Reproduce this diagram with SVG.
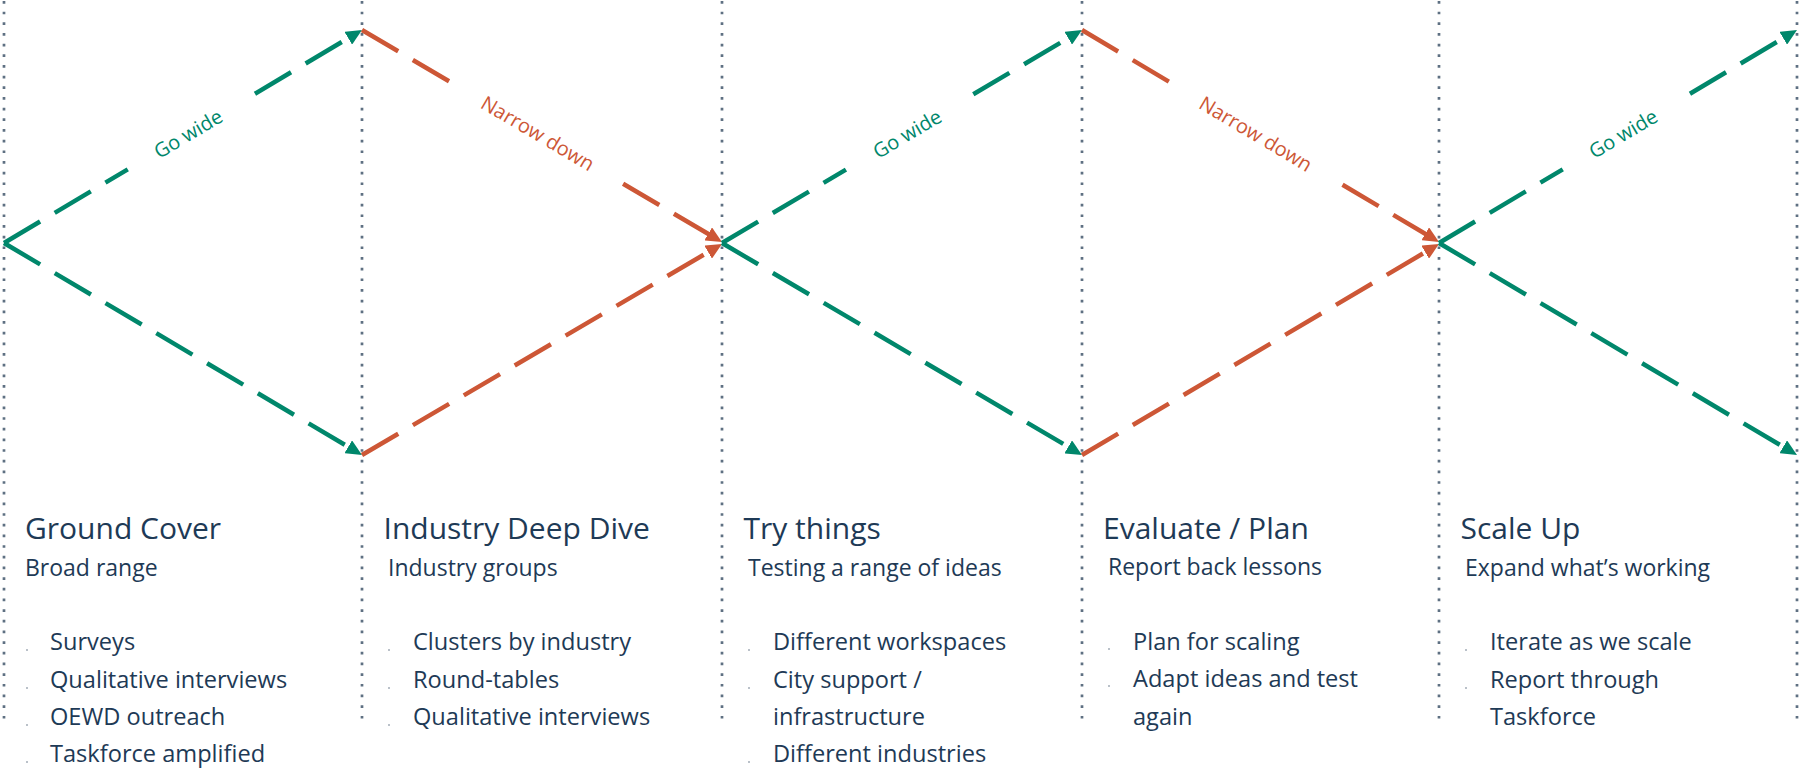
<svg xmlns="http://www.w3.org/2000/svg" width="1801" height="769" viewBox="0 0 1801 769">
<style>
.guide{stroke:#5E7082;stroke-width:2.7;stroke-dasharray:2.7 7.97;stroke-dashoffset:-1;fill:none}
.g{stroke:#00876B;stroke-width:4.5;stroke-dasharray:42 17;fill:none}
.o{stroke:#CD5736;stroke-width:4.5;stroke-dasharray:42 17;fill:none}
.lbl{font-family:"Open Sans","Noto Sans",sans-serif;font-size:20px;text-anchor:middle;dominant-baseline:central}
.title{font-family:"Open Sans","Noto Sans",sans-serif;font-size:30px;fill:#1E3A56}
.sub{font-family:"Open Sans","Noto Sans",sans-serif;font-size:23px;fill:#1E3A56}
.item{font-family:"Open Sans","Noto Sans",sans-serif;font-size:23.6px;fill:#1E3A56}
.dot{fill:#A3ADB7}
</style>
<defs>
<marker id="ag" markerUnits="userSpaceOnUse" markerWidth="16" markerHeight="15" refX="10" refY="7.5" orient="auto"><path d="M0,0 L16,7.5 L0,15 Z" fill="#00876B"/></marker>
<marker id="ao" markerUnits="userSpaceOnUse" markerWidth="16" markerHeight="15" refX="10" refY="7.5" orient="auto"><path d="M0,0 L16,7.5 L0,15 Z" fill="#CD5736"/></marker>
</defs>
<rect width="1801" height="769" fill="#FFFFFF"/>
<g id="guides">
<line class="guide" x1="4" y1="0" x2="4" y2="719"/>
<line class="guide" x1="362" y1="0" x2="362" y2="719"/>
<line class="guide" x1="722" y1="0" x2="722" y2="719"/>
<line class="guide" x1="1082" y1="0" x2="1082" y2="719"/>
<line class="guide" x1="1439" y1="0" x2="1439" y2="719"/>
<line class="guide" x1="1797" y1="0" x2="1797" y2="719"/>
</g>
<g id="connectors">
<path class="g" d="M4,243 L127.75,169.37 M254.94,93.70 L356.84,33.07" marker-end="url(#ag)"/>
<path class="g" d="M4,243 L356.84,451.93" marker-end="url(#ag)"/>
<path class="o" d="M362,30 L449.89,81.76 M623.10,183.74 L716.83,238.96" marker-end="url(#ao)"/>
<path class="o" d="M362,455 L716.82,247.03" marker-end="url(#ao)"/>
<path class="g" d="M722,243 L845.93,169.67 M973.30,94.31 L1076.84,33.06" marker-end="url(#ag)"/>
<path class="g" d="M722,243 L1076.84,451.94" marker-end="url(#ag)"/>
<path class="o" d="M1082,30 L1169.70,82.08 M1342.52,184.71 L1433.84,238.94" marker-end="url(#ao)"/>
<path class="o" d="M1082,455 L1433.83,247.05" marker-end="url(#ao)"/>
<path class="g" d="M1439,243 L1562.75,169.37 M1689.94,93.70 L1791.84,33.07" marker-end="url(#ag)"/>
<path class="g" d="M1439,243 L1791.84,451.93" marker-end="url(#ag)"/>
<text class="lbl" fill="#00876B" transform="translate(188,133.5) rotate(-30.7)">Go wide</text>
<text class="lbl" fill="#CD5736" transform="translate(538,133) rotate(30.5)">Narrow down</text>
<text class="lbl" fill="#00876B" transform="translate(907,133.5) rotate(-30.6)">Go wide</text>
<text class="lbl" fill="#CD5736" transform="translate(1256,133.5) rotate(30.7)">Narrow down</text>
<text class="lbl" fill="#00876B" transform="translate(1623,133.5) rotate(-30.7)">Go wide</text>
</g>
<g id="ground-cover">
<text class="title" x="25" y="539">Ground Cover</text>
<text class="sub" x="25" y="576">Broad range</text>
<circle class="dot" cx="27" cy="650" r="1"/><text class="item" x="50" y="650">Surveys</text>
<circle class="dot" cx="27" cy="688" r="1"/><text class="item" x="50" y="688">Qualitative interviews</text>
<circle class="dot" cx="27" cy="725" r="1"/><text class="item" x="50" y="725">OEWD outreach</text>
<circle class="dot" cx="27" cy="762" r="1"/><text class="item" x="50" y="762">Taskforce amplified</text>
</g>
<g id="industry-deep-dive">
<text class="title" x="383.5" y="539">Industry Deep Dive</text>
<text class="sub" x="388" y="576">Industry groups</text>
<circle class="dot" cx="389" cy="650" r="1"/><text class="item" x="413" y="650">Clusters by industry</text>
<circle class="dot" cx="389" cy="688" r="1"/><text class="item" x="413" y="688">Round-tables</text>
<circle class="dot" cx="389" cy="725" r="1"/><text class="item" x="413" y="725">Qualitative interviews</text>
</g>
<g id="try-things">
<text class="title" x="743.5" y="539">Try things</text>
<text class="sub" x="748" y="576">Testing a range of ideas</text>
<circle class="dot" cx="749" cy="650" r="1"/><text class="item" x="773" y="650">Different workspaces</text>
<circle class="dot" cx="749" cy="688" r="1"/><text class="item" x="773" y="688">City support /</text>
<text class="item" x="773" y="725">infrastructure</text>
<circle class="dot" cx="749" cy="762" r="1"/><text class="item" x="773" y="762">Different industries</text>
</g>
<g id="evaluate-plan">
<text class="title" x="1103" y="539">Evaluate / Plan</text>
<text class="sub" x="1108" y="575">Report back lessons</text>
<circle class="dot" cx="1109" cy="649" r="1"/><text class="item" x="1133" y="650">Plan for scaling</text>
<circle class="dot" cx="1109" cy="686" r="1"/><text class="item" x="1133" y="687">Adapt ideas and test</text>
<text class="item" x="1133" y="725">again</text>
</g>
<g id="scale-up">
<text class="title" x="1460.5" y="539">Scale Up</text>
<text class="sub" x="1465" y="576">Expand what’s working</text>
<circle class="dot" cx="1466" cy="650" r="1"/><text class="item" x="1490" y="650">Iterate as we scale</text>
<circle class="dot" cx="1466" cy="688" r="1"/><text class="item" x="1490" y="688">Report through</text>
<text class="item" x="1490" y="725">Taskforce</text>
</g>
</svg>
